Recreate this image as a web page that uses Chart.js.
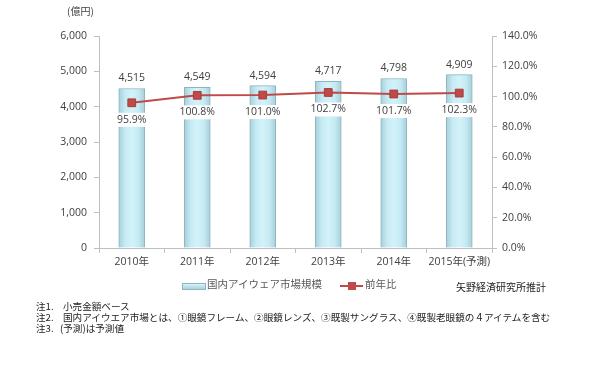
<!DOCTYPE html>
<html><head><meta charset="utf-8">
<script src="https://cdn.jsdelivr.net/npm/chart.js@4"></script>
<style>
html,body{margin:0;padding:0;background:#fff;}
#wrap{position:relative;width:600px;height:372px;overflow:hidden;font-family:"Noto Sans CJK JP","Noto Sans",sans-serif;color:#404040;}
canvas{position:absolute;left:0;top:0;}
.t{position:absolute;white-space:nowrap;line-height:1;}
.n{position:absolute;white-space:nowrap;line-height:1;font-size:9.6px;color:#222;}
</style></head>
<body>
<div id="wrap">
<canvas id="c" width="600" height="372"></canvas>
<div class="t" style="left:67px;top:6px;font-size:10px;">(億円)</div>
<div class="t" style="left:182px;top:283px;width:22px;height:5px;border:1px solid #8eb4be;background:linear-gradient(#d6f3fa,#a9d3de);"></div>
<div class="t" style="left:207px;top:279px;font-size:10.5px;color:#595959;" id="lg1"></div>
<div class="t" style="left:340px;top:285px;width:23px;height:2px;background:#be4b48;"></div>
<div class="t" style="left:348px;top:282px;width:8px;height:8px;background:#be4b48;"></div>
<div class="t" style="left:365px;top:279px;font-size:10.5px;color:#595959;" id="lg2"></div>
<div class="t" style="left:456px;top:282px;font-size:10px;color:#222;">矢野経済研究所推計</div>
<div class="n" style="left:36px;top:302px;">注1.</div><div class="n" style="left:63px;top:302px;">小売金額ベース</div>
<div class="n" style="left:36px;top:313px;">注2.</div><div class="n" style="left:63px;top:313px;">国内アイウエア市場とは、①眼鏡フレーム、②眼鏡レンズ、③既製サングラス、④既製老眼鏡の４アイテムを含む</div>
<div class="n" style="left:36px;top:324px;">注3.</div><div class="n" style="left:60px;top:324px;">(予測)は予測値</div>
</div>
<script>
const categories = ['2010年','2011年','2012年','2013年','2014年','2015年(予測)'];
const marketSize = [4515, 4549, 4594, 4717, 4798, 4909];
const yoyPercent = [95.9, 100.8, 101.0, 102.7, 101.7, 102.3];
const seriesNames = ['国内アイウェア市場規模', '前年比'];

document.getElementById('lg1').textContent = seriesNames[0];
document.getElementById('lg2').textContent = seriesNames[1];

const numFont = {family: '"Open Sans","Noto Sans",sans-serif', size: 10.5};
const txt = '#404040';
const axisCol = '#bfbfbf';

const labelPlugin = {
  id: 'valueLabels',
  afterDatasetsDraw(chart) {
    const ctx = chart.ctx;
    const bars = chart.getDatasetMeta(1).data;
    const pts = chart.getDatasetMeta(0).data;
    ctx.save();
    ctx.font = '10.5px "Open Sans","Noto Sans",sans-serif';
    ctx.textAlign = 'center';
    ctx.textBaseline = 'middle';
    bars.forEach((b, i) => {
      ctx.fillStyle = txt;
      ctx.fillText(marketSize[i].toLocaleString('en-US'), b.x, b.y - 10);
    });
    pts.forEach((p, i) => {
      const s = yoyPercent[i].toFixed(1) + '%';
      const w = ctx.measureText(s).width;
      const yy = p.y + 17;
      ctx.fillStyle = '#fff';
      ctx.fillRect(p.x - w / 2 - 2, yy - 7, w + 4, 14);
      ctx.fillStyle = txt;
      ctx.fillText(s, p.x, yy);
    });
    ctx.restore();
  }
};

new Chart(document.getElementById('c'), {
  data: {
    labels: categories,
    datasets: [
      {
        type: 'line', label: seriesNames[1], data: yoyPercent, yAxisID: 'y1', order: 0,
        borderColor: '#be4b48', backgroundColor: '#be4b48', borderWidth: 2,
        pointStyle: 'rect', pointRadius: 5.5, pointBackgroundColor: '#be4b48', pointBorderColor: '#a93c3a', pointBorderWidth: 1,
        tension: 0
      },
      {
        type: 'bar', label: seriesNames[0], data: marketSize, yAxisID: 'y', order: 1,
        barThickness: 26,
        backgroundColor: (c) => {
          const ch = c.chart;
          if (!ch.chartArea) return '#c4e9f2';
          const x = ch.scales.x.getPixelForValue(c.dataIndex);
          const g = ch.ctx.createLinearGradient(x - 13, 0, x + 13, 0);
          g.addColorStop(0, '#a6d0db');
          g.addColorStop(0.25, '#c6ebf4');
          g.addColorStop(0.5, '#d3f2f9');
          g.addColorStop(0.75, '#c6ebf4');
          g.addColorStop(1, '#a6d0db');
          return g;
        },
        borderColor: '#8eb4be', borderWidth: 1
      }
    ]
  },
  options: {
    responsive: false, animation: false, devicePixelRatio: 1,
    layout: {padding: {left: 0, right: 0, top: 36, bottom: 0}},
    plugins: {legend: {display: false}, tooltip: {enabled: false}},
    scales: {
      x: {
        offset: true,
        afterFit: s => { s.height = 124; },
        grid: {display: true, drawOnChartArea: false, drawTicks: true, tickLength: 5, offset: true, color: axisCol},
        border: {color: axisCol},
        ticks: {color: txt, font: {family: '"Open Sans","Noto Sans CJK JP",sans-serif', size: 10.5}, padding: 3, maxRotation: 0, autoSkip: false}
      },
      y: {
        position: 'left', min: 0, max: 6000,
        afterFit: s => { s.width = 99; },
        grid: {display: true, drawOnChartArea: false, drawTicks: true, tickLength: 5, color: axisCol},
        border: {color: axisCol},
        ticks: {stepSize: 1000, color: txt, font: numFont, padding: 7, callback: v => v.toLocaleString('en-US')}
      },
      y1: {
        position: 'right', min: 0, max: 140,
        afterFit: s => { s.width = 108; },
        grid: {display: true, drawOnChartArea: false, drawTicks: true, tickLength: 5, color: axisCol},
        border: {color: axisCol},
        ticks: {stepSize: 20, color: txt, font: numFont, padding: 5, callback: v => v.toFixed(1) + '%'}
      }
    }
  },
  plugins: [labelPlugin]
});
</script>
</body></html>
